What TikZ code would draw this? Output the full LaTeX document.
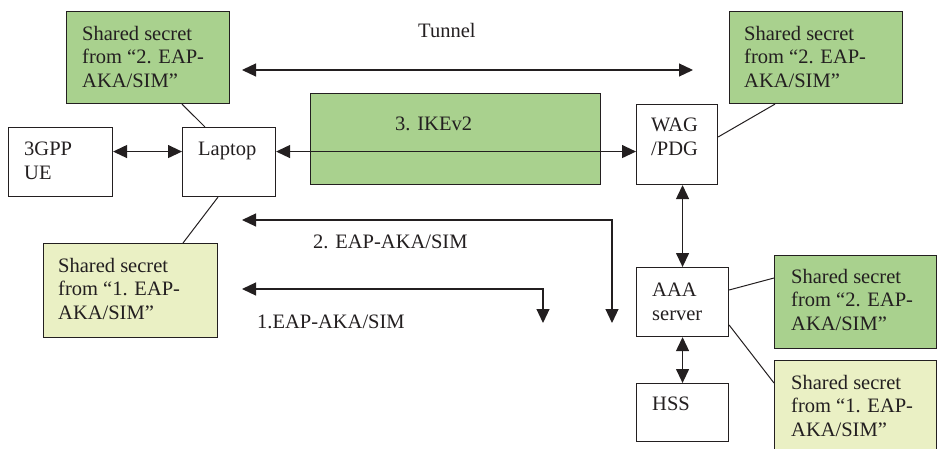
\documentclass[tikz,border=0pt]{standalone}
\usepackage{fontspec}
\setmainfont{Liberation Serif}
\usetikzlibrary{arrows.meta,calc}
\definecolor{gr}{HTML}{A9D18E}
\definecolor{yl}{HTML}{EAF0C4}
\definecolor{ln}{HTML}{231F20}
\begin{document}
\begin{tikzpicture}[x=1pt,y=-1pt,
  box/.style={draw=ln, line width=1.1pt, anchor=north west, inner sep=0pt},
  txt/.style={anchor=north west, inner sep=0pt, align=left, text=ln,
    font=\fontsize{20.5}{23.5}\selectfont},
  dbl/.style={draw=ln, line width=1.2pt,
    {Triangle[length=14pt,width=13pt]}-{Triangle[length=14pt,width=13pt]}},
  lnk/.style={draw=ln, line width=1pt}]
\path[use as bounding box] (0,0) rectangle (937,449);
\clip (0,0) rectangle (937,449);

% boxes
\node[box, fill=gr, minimum width=163pt, minimum height=92pt] (g1) at (66,11) {};
\node[box, minimum width=104pt, minimum height=69pt] (ue) at (8,127) {};
\node[box, minimum width=93pt, minimum height=69pt] (lap) at (182,127) {};
\node[box, fill=yl, minimum width=174pt, minimum height=94pt] (y1) at (43,243) {};
\node[box, fill=gr, minimum width=290pt, minimum height=91pt] (ike) at (310,93) {};
\node[box, minimum width=81pt, minimum height=80pt] (wag) at (636,104) {};
\node[box, fill=gr, minimum width=173pt, minimum height=92pt] (g2) at (729,11) {};
\node[box, minimum width=92pt, minimum height=69pt] (aaa) at (636,267) {};
\node[box, minimum width=92pt, minimum height=58pt] (hss) at (636,383) {};
\node[box, fill=gr, minimum width=162pt, minimum height=93pt] (g3) at (774,255) {};
\node[box, fill=yl, minimum width=162pt, minimum height=110pt] (y4) at (774,360) {};

% texts
\node[txt] (g1t) at (82,26) {Shared secret\\from “2. EAP-\\AKA/SIM”};
\node[txt] (uet) at (24,142) {3GPP\\UE};
\node[txt] (lapt) at (198,142) {Laptop};
\node[txt] (y1t) at (58,258) {Shared secret\\from “1. EAP-\\AKA/SIM”};
\node[txt] (iket) at (395,117) {3. IKEv2};
\node[txt] (tun) at (418,23) {Tunnel};
\node[txt] (wagt) at (651,118) {WAG\\/PDG};
\node[txt] (g2t) at (744,26) {Shared secret\\from “2. EAP-\\AKA/SIM”};
\node[txt] (aaat) at (652,283) {AAA\\server};
\node[txt] (hsst) at (652,397) {HSS};
\node[txt] (g3t) at (791,269) {Shared secret\\from “2. EAP-\\AKA/SIM”};
\node[txt] (y4t) at (791,375) {Shared secret\\from “1. EAP-\\AKA/SIM”};
\node[txt] (e2l) at (313,235) {2. EAP-AKA/SIM};
\node[txt] (e1l) at (257,315) {1.EAP-AKA/SIM};

% free ends
\coordinate (tunL) at (242,70);
\coordinate (tunR) at (693,70);
\coordinate (e2a) at (242,220);
\coordinate (e2b) at (612,323);
\coordinate (e1a) at (242,289);
\coordinate (e1b) at (543,323);

% arrows
\draw[dbl] ([yshift=10.5pt]ue.east) -- ([yshift=10.5pt]lap.west);
\draw[dbl] ([yshift=10.5pt]lap.east) -- ([yshift=10.5pt]lap.east -| wag.west);
\draw[dbl] (tunL) -- (tunR);
\draw[dbl] (aaa.north) -- (aaa.north |- wag.south);
\draw[dbl] (aaa.south) -- (hss.north);
\draw[dbl] (e2a) -| (e2b);
\draw[dbl] (e1a) -| (e1b);

% links
\draw[lnk] ($(g1.south west)+(116,0)$) -- ($(lap.north west)+(23,0)$);
\draw[lnk] ($(lap.south west)+(36,0)$) -- ($(y1.north west)+(140,0)$);
\draw[lnk] ($(wag.north east)+(0,33)$) -- ($(g2.south west)+(46,0)$);
\draw[lnk] ($(aaa.north east)+(0,23)$) -- ($(g3.north west)+(0,23)$);
\draw[lnk] ($(aaa.north east)+(0,58)$) -- ($(y4.north west)+(0,23)$);
\end{tikzpicture}
\end{document}
